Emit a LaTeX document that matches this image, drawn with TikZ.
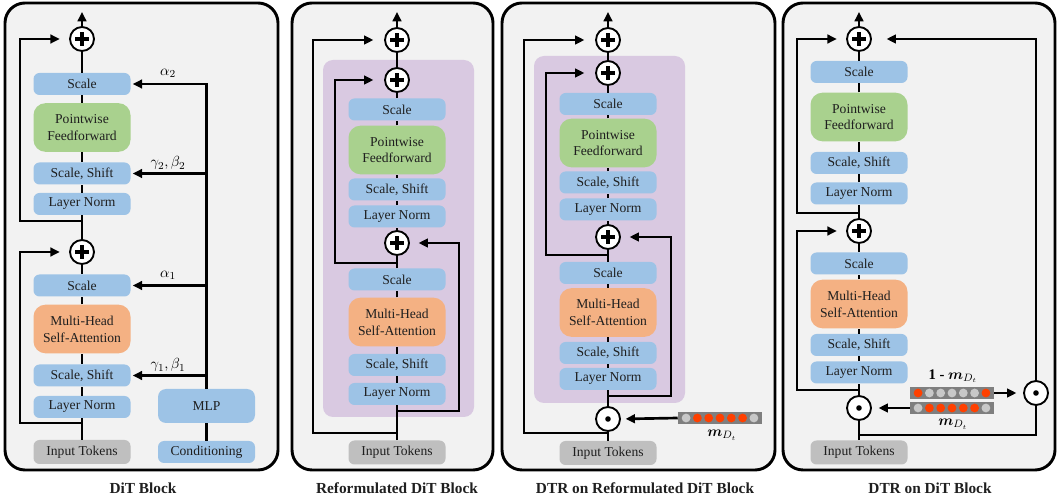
\documentclass[tikz,border=0pt]{standalone}
\usepackage{amsmath,bm}
\usepackage{fontspec}
\setmainfont{Liberation Serif}
\usetikzlibrary{arrows.meta,calc}
\definecolor{bluebox}{HTML}{9DC3E6}
\definecolor{greenbox}{HTML}{A9D18E}
\definecolor{orangebox}{HTML}{F4B183}
\definecolor{graybox}{HTML}{BFBFBF}
\definecolor{panelbg}{HTML}{F2F2F2}
\definecolor{purplebg}{HTML}{D9C9E1}
\definecolor{maskred}{HTML}{FF4000}
\definecolor{masklight}{HTML}{C8C8C8}
\definecolor{maskgray}{HTML}{7F7F7F}
\definecolor{txt}{HTML}{1F1F1F}
\tikzset{
  blk/.style={draw=none, rounded corners=4.5pt, minimum width=72.75pt, minimum height=16.5pt, inner sep=0pt, align=center, font=\fontsize{10.2}{12.6}\selectfont, text=txt},
  sbox/.style={blk, fill=bluebox},
  bigblk/.style={blk, rounded corners=9pt, minimum height=36.5pt},
  ffbox/.style={bigblk, fill=greenbox},
  attbox/.style={bigblk, fill=orangebox},
  inpbox/.style={blk, fill=graybox, minimum height=18pt},
  conn/.style={line width=2pt, draw=black},
  arr/.style={conn, -{Triangle[length=7pt,width=6.5pt]}},
  addop/.style={circle, draw, line width=1.4pt, fill=white, minimum size=18pt, inner sep=0pt,
    path picture={\draw[black, line width=2.4pt] ([xshift=-5.2pt]path picture bounding box.center) -- ([xshift=5.2pt]path picture bounding box.center);
      \draw[black, line width=2.4pt] ([yshift=-5.2pt]path picture bounding box.center) -- ([yshift=5.2pt]path picture bounding box.center);}},
  mulop/.style={circle, draw, line width=1.4pt, fill=white, minimum size=18pt, inner sep=0pt,
    path picture={\fill[black] (path picture bounding box.center) circle (2.1pt);}},
  panel/.style={draw, line width=2.2pt, rounded corners=15pt, fill=panelbg},
  purp/.style={fill=purplebg, rounded corners=7.5pt},
  ttl/.style={font=\fontsize{11.5}{13}\selectfont\bfseries, text=txt},
  lbl/.style={font=\fontsize{11}{13}\selectfont, inner sep=0pt},
  maskbarstyle/.style={fill=maskgray, minimum width=63pt, minimum height=9pt, inner sep=0pt, draw=none},
}
\newcommand\maskrow[3]{%
  \node[maskbarstyle] (#1) at #2 {};
  \foreach \c [count=\i] in {#3} { \fill[\c] ([xshift={(\i-4)*8.475pt}]#1.center) circle (3.3pt); }
}
\begin{document}
\begin{tikzpicture}[x=0.75pt, y=-0.75pt]
\useasboundingbox (0,0) rectangle (1058,502);
% panels
\draw[panel] (5,3) rectangle (278,470);
\draw[panel] (292,3) rectangle (493,470);
\draw[panel] (502,3) rectangle (775,470);
\draw[panel] (783,3) rectangle (1055,470);
\node[ttl] (t1) at (143,488) {DiT Block};
\node[ttl] (t2) at (397,488) {Reformulated DiT Block};
\node[ttl] (t3) at (645,488) {DTR on Reformulated DiT Block};
\node[ttl] (t4) at (930,488) {DTR on DiT Block};

% ================= Panel 1
\node[addop] (p1a) at (82,39) {};
\node[sbox] (sc12) at (82,84) {Scale};
\node[ffbox] (ff1) at (82,127.5) {Pointwise\\Feedforward};
\node[sbox] (ss12) at (82,173.5) {Scale, Shift};
\node[sbox] (ln12) at (82,204) {Layer Norm};
\node[addop] (p1b) at (82,252) {};
\node[sbox] (sc11) at (82,285.5) {Scale};
\node[attbox] (mh1) at (82,329) {Multi-Head\\Self-Attention};
\node[sbox] (ss11) at (82,375.5) {Scale, Shift};
\node[sbox] (ln11) at (82,407) {Layer Norm};
\node[inpbox] (in1) at (82,452) {Input Tokens};
\node[sbox, minimum height=25.5pt, rounded corners=6pt] (mlp) at (206.5,406) {MLP};
\node[sbox] (cond) at (206.5,452) {Conditioning};
\coordinate (out1) at (82,12);
\draw[conn] (in1) -- (ln11) -- (ss11) -- (mh1) -- (sc11) -- (p1b) -- (ln12) -- (ss12) -- (ff1) -- (sc12) -- (p1a);
\draw[arr] (p1a) -- (out1);
\coordinate (j1a) at (82,221); \coordinate (c1a) at (20,39);
\coordinate (j1b) at (82,423); \coordinate (c1b) at (20,252);
\draw[arr, shorten >=7pt] (j1a) -| (c1a) -- (p1a.west);
\draw[arr, shorten >=7pt] (j1b) -| (c1b) -- (p1b.west);
\draw[conn] (cond) -- (mlp);
\draw[arr, shorten >=1.5pt] (mlp.north) |- (sc12.east);
\coordinate (b12) at (mlp.north |- ss12.east);
\coordinate (b11) at (mlp.north |- sc11.east);
\coordinate (b10) at (mlp.north |- ss11.east);
\draw[arr, shorten >=1.5pt] (b12) -- (ss12.east);
\draw[arr, shorten >=1.5pt] (b11) -- (sc11.east);
\draw[arr, shorten >=1.5pt] (b10) -- (ss11.east);
\node[lbl, anchor=south] (la2) at (168,78) {$\alpha_2$};
\node[lbl, anchor=south] (lg2) at (168,170) {$\gamma_2,\beta_2$};
\node[lbl, anchor=south] (la1) at (168,280) {$\alpha_1$};
\node[lbl, anchor=south] (lg1) at (168,372) {$\gamma_1,\beta_1$};

% ================= Panel 2
\fill[purp] (323,60) rectangle (474,417);
\node[addop] (p2a) at (397,40) {};
\node[addop] (p2b) at (397,80) {};
\node[sbox] (sc22) at (397,109.5) {Scale};
\node[ffbox] (ff2) at (397,150) {Pointwise\\Feedforward};
\node[sbox] (ss22) at (397,189.5) {Scale, Shift};
\node[sbox] (ln22) at (397,216.5) {Layer Norm};
\node[addop] (p2c) at (397,243) {};
\node[sbox] (sc21) at (397,279.5) {Scale};
\node[attbox] (mh2) at (397,322) {Multi-Head\\Self-Attention};
\node[sbox] (ss21) at (397,365) {Scale, Shift};
\node[sbox] (ln21) at (397,394) {Layer Norm};
\node[inpbox] (in2) at (397,452.5) {Input Tokens};
\coordinate (out2) at (397,12);
\draw[conn] (in2) -- (ln21) -- (ss21) -- (mh2) -- (sc21) -- (p2c) -- (ln22) -- (ss22) -- (ff2) -- (sc22) -- (p2b) -- (p2a);
\draw[arr] (p2a) -- (out2);
\coordinate (j2a) at (397,433); \coordinate (c2a) at (313,40);
\coordinate (j2b) at (397,263); \coordinate (c2b) at (335,80);
\coordinate (j2c) at (397,411); \coordinate (c2c) at (459,243);
\draw[arr, shorten >=8pt] (j2a) -| (c2a) -- (p2a.west);
\draw[arr, shorten >=8pt] (j2b) -| (c2b) -- (p2b.west);
\draw[arr, shorten >=6.5pt] (j2c) -| (c2c) -- (p2c.east);

% ================= Panel 3
\fill[purp] (534,56) rectangle (685,403);
\node[addop] (p3a) at (608,40) {};
\node[addop] (p3b) at (608,73) {};
\node[sbox] (sc32) at (608,104) {Scale};
\node[ffbox] (ff3) at (608,143) {Pointwise\\Feedforward};
\node[sbox] (ss32) at (608,182.5) {Scale, Shift};
\node[sbox] (ln32) at (608,209.5) {Layer Norm};
\node[addop] (p3c) at (608,237) {};
\node[sbox] (sc31) at (608,273) {Scale};
\node[attbox] (mh3) at (608,312.5) {Multi-Head\\Self-Attention};
\node[sbox] (ss31) at (608,353) {Scale, Shift};
\node[sbox] (ln31) at (608,379) {Layer Norm};
\node[mulop] (od3) at (608,419) {};
\node[inpbox] (in3) at (608,453) {Input Tokens};
\coordinate (out3) at (608,12);
\draw[conn] (in3) -- (od3) -- (ln31) -- (ss31) -- (mh3) -- (sc31) -- (p3c) -- (ln32) -- (ss32) -- (ff3) -- (sc32) -- (p3b) -- (p3a);
\draw[arr] (p3a) -- (out3);
\coordinate (j3a) at (608,433); \coordinate (c3a) at (524,40);
\coordinate (j3b) at (608,255); \coordinate (c3b) at (546,73);
\coordinate (j3c) at (608,396); \coordinate (c3c) at (671,237);
\draw[arr, shorten >=8pt] (j3a) -| (c3a) -- (p3a.west);
\draw[arr, shorten >=8pt] (j3b) -| (c3b) -- (p3b.west);
\draw[arr, shorten >=6.5pt] (j3c) -| (c3c) -- (p3c.east);
\maskrow{bar3}{(720,418)}{masklight,maskred,maskred,maskred,maskred,maskred,masklight}
\draw[arr, shorten >=3.5pt] (bar3.west) -- (od3.east);
\node[lbl] (lm3) at (722,435) {$\bm{m}_{D_t}$};

% ================= Panel 4
\node[addop] (p4a) at (859,39) {};
\node[sbox] (sc42) at (859,72) {Scale};
\node[ffbox] (ff4) at (859,117) {Pointwise\\Feedforward};
\node[sbox] (ss42) at (859,163) {Scale, Shift};
\node[sbox] (ln42) at (859,193.5) {Layer Norm};
\node[addop] (p4b) at (859,231) {};
\node[sbox] (sc41) at (859,263.5) {Scale};
\node[attbox] (mh4) at (859,304) {Multi-Head\\Self-Attention};
\node[sbox] (ss41) at (859,345) {Scale, Shift};
\node[sbox] (ln41) at (859,372.5) {Layer Norm};
\node[mulop] (od4a) at (859,408) {};
\node[mulop] (od4b) at (1036,393) {};
\node[inpbox] (in4) at (859,452.5) {Input Tokens};
\coordinate (out4) at (859,12);
\draw[conn] (in4) -- (od4a) -- (ln41) -- (ss41) -- (mh4) -- (sc41) -- (p4b) -- (ln42) -- (ss42) -- (ff4) -- (sc42) -- (p4a);
\draw[arr] (p4a) -- (out4);
\coordinate (j4a) at (859,213); \coordinate (c4a) at (797,39);
\coordinate (j4b) at (859,390); \coordinate (c4b) at (797,231);
\coordinate (j4c) at (859,435);
\draw[arr, shorten >=7pt] (j4a) -| (c4a) -- (p4a.west);
\draw[arr, shorten >=7pt] (j4b) -| (c4b) -- (p4b.west);
\draw[conn] (j4c) -| (od4b.south);
\draw[arr, shorten >=11pt] (od4b.north) |- (p4a.east);
\maskrow{bar4a}{(952,393)}{maskred,masklight,masklight,masklight,masklight,masklight,maskred}
\maskrow{bar4b}{(952,408)}{masklight,maskred,maskred,maskred,maskred,maskred,masklight}
\draw[arr, shorten >=5pt] (bar4a.east) -- (od4b.west);
\draw[arr, shorten >=5pt] (bar4b.west) -- (od4a.east);
\node[lbl] (lm4a) at (953,376) {$\mathbf{1}$ \textbf{-} $\bm{m}_{D_t}$};
\node[lbl] (lm4b) at (953,424) {$\bm{m}_{D_t}$};
\end{tikzpicture}
\end{document}
